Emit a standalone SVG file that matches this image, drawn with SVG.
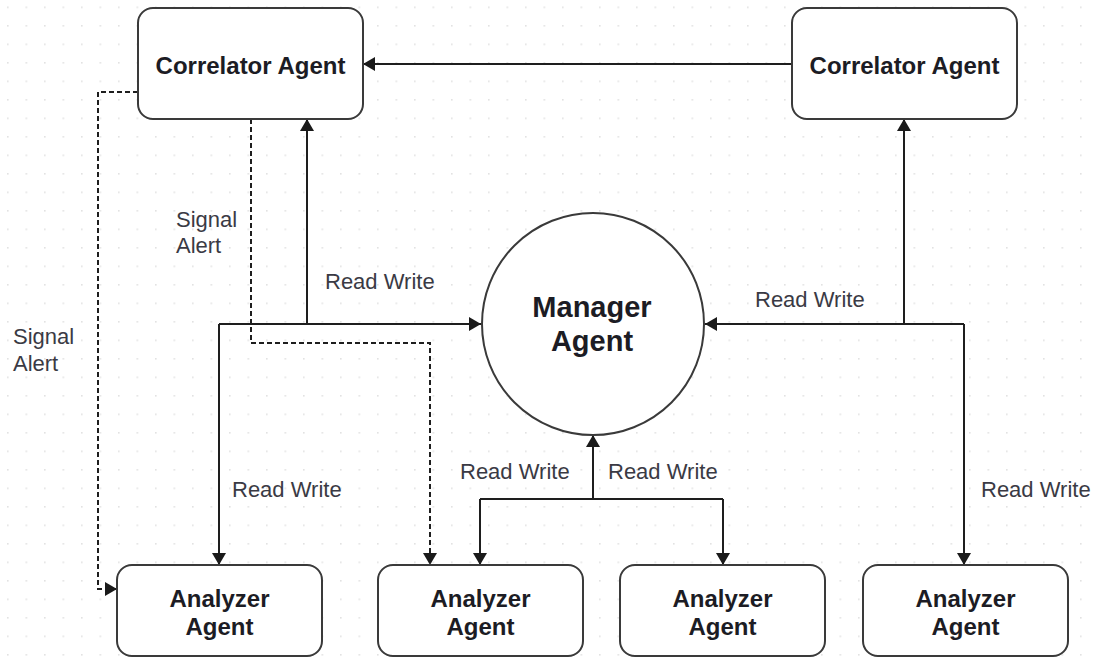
<svg xmlns="http://www.w3.org/2000/svg" width="1093" height="659" viewBox="0 0 1093 659">
  <defs>
    <pattern id="grid" x="7" y="6.5" width="18.5" height="18.5" patternUnits="userSpaceOnUse">
      <rect x="0" y="0" width="1.6" height="1.6" fill="#e2e2e2"/>
    </pattern>
    <marker id="arrow" viewBox="0 0 12 14" refX="12" refY="7" markerWidth="12" markerHeight="14" markerUnits="userSpaceOnUse" orient="auto">
      <path d="M0,0 L12,7 L0,14 z" fill="#1a1a1a"/>
    </marker>
    <style>
      .box { fill: #ffffff; stroke: #3a3a3a; stroke-width: 2; }
      .title { font-family: "Liberation Sans", Arial, sans-serif; font-weight: bold; fill: #1c1c24; text-anchor: middle; }
      .label { font-family: "Liberation Sans", Arial, sans-serif; font-size: 22px; fill: #3a3a44; }
      .link { fill: none; stroke: #1e1e1e; stroke-width: 2; }
      .dash { fill: none; stroke: #1e1e1e; stroke-width: 2; stroke-dasharray: 5 3; }
    </style>
  </defs>

  <rect width="1093" height="659" fill="#ffffff"/>
  <rect width="1093" height="659" fill="url(#grid)"/>

  <!-- connectors -->
  <g id="connectors">
    <!-- correlator (right) to correlator (left) -->
    <path class="link" d="M792,64 H363" marker-end="url(#arrow)"/>
    <!-- left bus -->
    <path class="link" d="M307,324 V119" marker-end="url(#arrow)"/>
    <path class="link" d="M219,324 H481" marker-end="url(#arrow)"/>
    <path class="link" d="M219,324 V565" marker-end="url(#arrow)"/>
    <!-- right bus -->
    <path class="link" d="M964,324 H705" marker-end="url(#arrow)"/>
    <path class="link" d="M904,324 V119" marker-end="url(#arrow)"/>
    <path class="link" d="M964,324 V565" marker-end="url(#arrow)"/>
    <!-- bottom bus -->
    <path class="link" d="M593,499 V435" marker-end="url(#arrow)"/>
    <path class="link" d="M480,499 H723" />
    <path class="link" d="M480,499 V565" marker-end="url(#arrow)"/>
    <path class="link" d="M723,499 V565" marker-end="url(#arrow)"/>
    <!-- signal alerts -->
    <path class="dash" d="M138,92 H98 V589 H117" marker-end="url(#arrow)"/>
    <path class="dash" d="M251,119 V343 H430 V565" marker-end="url(#arrow)"/>

    <text class="label" x="13" y="344">Signal</text>
    <text class="label" x="13" y="371">Alert</text>
    <text class="label" x="176" y="227">Signal</text>
    <text class="label" x="176" y="253">Alert</text>
    <text class="label" x="325" y="289">Read Write</text>
    <text class="label" x="755" y="307">Read Write</text>
    <text class="label" x="232" y="497">Read Write</text>
    <text class="label" x="460" y="479">Read Write</text>
    <text class="label" x="608" y="479">Read Write</text>
    <text class="label" x="981" y="497">Read Write</text>
  </g>

  <!-- nodes -->
  <g id="correlator-left">
    <rect class="box" x="138" y="8" width="225" height="111" rx="15"/>
    <text class="title" x="250.5" y="74" font-size="24">Correlator Agent</text>
  </g>
  <g id="correlator-right">
    <rect class="box" x="792" y="8" width="225" height="111" rx="15"/>
    <text class="title" x="904.5" y="74" font-size="24">Correlator Agent</text>
  </g>
  <g id="manager">
    <circle class="box" cx="593" cy="324" r="111"/>
    <text class="title" x="592" y="317" font-size="29">Manager</text>
    <text class="title" x="592" y="351" font-size="29">Agent</text>
  </g>
  <g id="analyzer-1">
    <rect class="box" x="117" y="565" width="205" height="91" rx="15"/>
    <text class="title" x="219.5" y="607" font-size="24">Analyzer</text>
    <text class="title" x="219.5" y="635" font-size="24">Agent</text>
  </g>
  <g id="analyzer-2">
    <rect class="box" x="378" y="565" width="205" height="91" rx="15"/>
    <text class="title" x="480.5" y="607" font-size="24">Analyzer</text>
    <text class="title" x="480.5" y="635" font-size="24">Agent</text>
  </g>
  <g id="analyzer-3">
    <rect class="box" x="620" y="565" width="205" height="91" rx="15"/>
    <text class="title" x="722.5" y="607" font-size="24">Analyzer</text>
    <text class="title" x="722.5" y="635" font-size="24">Agent</text>
  </g>
  <g id="analyzer-4">
    <rect class="box" x="863" y="565" width="205" height="91" rx="15"/>
    <text class="title" x="965.5" y="607" font-size="24">Analyzer</text>
    <text class="title" x="965.5" y="635" font-size="24">Agent</text>
  </g>
</svg>
